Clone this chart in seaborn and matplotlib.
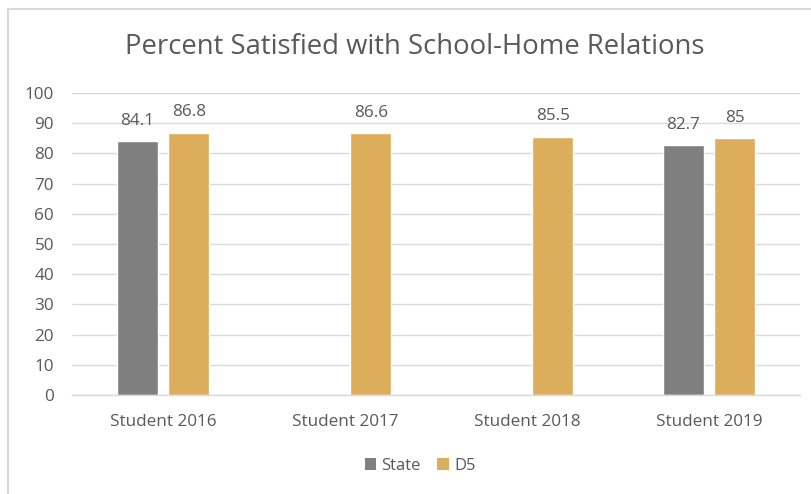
import numpy as np
import pandas as pd
import matplotlib
matplotlib.use("Agg")
import matplotlib.pyplot as plt
import seaborn as sns
from matplotlib.patches import Rectangle, Patch

categories = ["Student 2016", "Student 2017", "Student 2018", "Student 2019"]
state_values = [84.1, np.nan, np.nan, 82.7]
d5_values = [86.8, 86.6, 85.5, 85.0]
series_names = ["State", "D5"]
y_ticks = [0, 10, 20, 30, 40, 50, 60, 70, 80, 90, 100]
title = "Percent Satisfied with School-Home Relations"

df = pd.DataFrame({
    "Category": categories * 2,
    "Series": [series_names[0]] * 4 + [series_names[1]] * 4,
    "Value": state_values + d5_values,
})

sns.set_theme(style="white")
plt.rcParams["font.family"] = ["Open Sans", "DejaVu Sans"]

colors = {"State": "#7f7f7f", "D5": "#dcad5a"}
txt = "#595959"

fig = plt.figure(figsize=(8.12, 4.94), dpi=100)
ax = fig.add_axes([72 / 812, 1 - 395 / 494, (800 - 72) / 812, (395 - 93) / 494])

sns.barplot(data=df, x="Category", y="Value", hue="Series", palette=colors,
            width=0.566, gap=0.2, ax=ax, legend=False, saturation=1)

for cont in ax.containers:
    labels = ["" if np.isnan(v) else f"{v:g}" for v in cont.datavalues]
    ax.bar_label(cont, labels=labels, padding=9, fontsize=12.3, color=txt)

ax.set_ylim(0, 100)
ax.set_yticks(y_ticks)
ax.set_xlim(-0.5, 3.5)
ax.grid(axis="y", color="#d9d9d9", linewidth=1)
ax.set_axisbelow(True)
for s in ["top", "right", "left"]:
    ax.spines[s].set_visible(False)
ax.spines["bottom"].set_color("#d9d9d9")
ax.spines["bottom"].set_linewidth(1)
ax.set_xlabel("")
ax.set_ylabel("")
ax.tick_params(axis="both", length=0, labelsize=12.3, colors=txt)
ax.tick_params(axis="x", pad=14)
ax.tick_params(axis="y", pad=13)
for lab in ax.get_yticklabels():
    lab.set_horizontalalignment("right")

fig.text(415 / 812, 1 - 47 / 494, title, ha="center", va="center",
         fontsize=19.8, color=txt)

handles = [Patch(facecolor=colors[n], edgecolor="none", label=n) for n in series_names]
fig.legend(handles=handles, loc="center", bbox_to_anchor=(420 / 812, 1 - 466 / 494),
           ncol=2, frameon=False, fontsize=12, labelcolor=txt,
           handlelength=0.7, handleheight=0.7, handletextpad=0.3, columnspacing=1.0)

fig.patches.append(Rectangle((8 / 812, -0.1), 1.2, 1 - 9 / 494 + 0.1,
                             transform=fig.transFigure, fill=False,
                             edgecolor="#d9d9d9", linewidth=1.5))

fig.savefig("out.png", dpi=100)
